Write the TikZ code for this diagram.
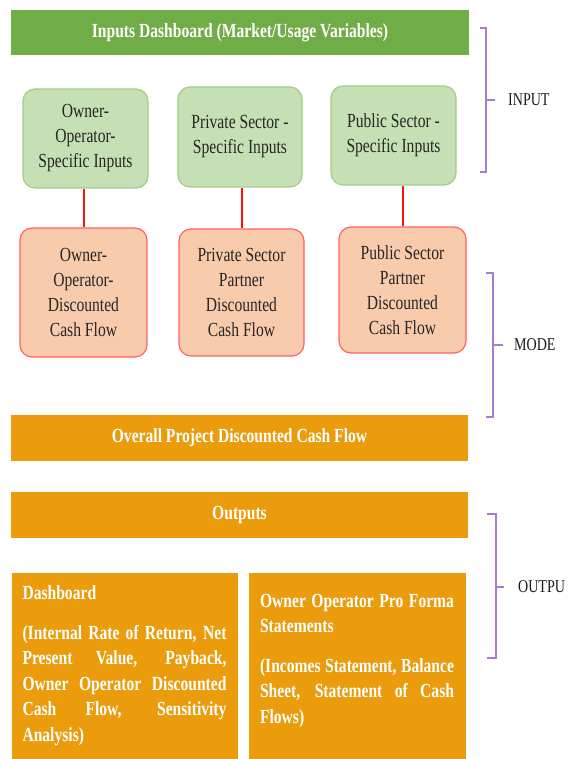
\documentclass[tikz,border=0pt]{standalone}
\usepackage{fontspec}
\setmainfont{Liberation Serif}[FakeStretch=0.78]
\usepackage{tikz}
\usetikzlibrary{positioning}

\definecolor{barGreen}{HTML}{70AD47}
\definecolor{inFill}{HTML}{C5E0B4}
\definecolor{inLine}{HTML}{A2CD86}
\definecolor{dcfFill}{HTML}{F8CBAD}
\definecolor{dcfLine}{HTML}{FF6262}
\definecolor{barOrange}{HTML}{EA9C0D}
\definecolor{linkRed}{HTML}{FF1010}
\definecolor{braceViolet}{HTML}{A77CCF}

\begin{document}
\begin{tikzpicture}[
        x=1pt, y=-1pt,
        bar/.style={rectangle, inner sep=0pt, minimum height=46pt, text=white, font=\fontsize{20}{25}\selectfont\bfseries},
        inbox/.style={rectangle, draw=inLine, fill=inFill, line width=1.2pt, rounded corners=12pt, inner sep=0pt, align=center, text=black!85, font=\fontsize{20}{25}\selectfont},
        dcfbox/.style={inbox, draw=dcfLine, fill=dcfFill},
        outbox/.style={rectangle, fill=barOrange, inner sep=0pt},
        outtext/.style={inner sep=0pt, align=justify, text=white, font=\fontsize{20}{25.5}\selectfont\bfseries},
        link/.style={draw=linkRed, line width=2pt},
        brace/.style={draw=braceViolet, line width=1.8pt},
        tag/.style={anchor=west, inner sep=0pt, text=black!90, font=\fontsize{18}{22}\selectfont}
    ]
        \useasboundingbox (0,0) rectangle (568,759);

        % input row
        \node[bar, fill=barGreen, minimum width=458pt, minimum height=45pt] (dash0) at (240,32.5) {Inputs Dashboard (Market/Usage Variables)};
        \node[inbox, minimum width=125pt, minimum height=99pt] (ownIn) at (85.5,138.5) {Owner-\\Operator-\\Specific Inputs};
        \node[inbox, minimum width=124pt, minimum height=100pt] (privIn) at (240,137) {Private Sector -\\Specific Inputs};
        \node[inbox, minimum width=125pt, minimum height=99pt] (pubIn) at (393.5,135.5) {Public Sector -\\Specific Inputs};

        % discounted cash flows
        \node[dcfbox, minimum width=127pt, minimum height=129pt] (ownDcf) at (83.5,292.5) {Owner-\\Operator-\\Discounted\\Cash Flow};
        \node[dcfbox, minimum width=125pt, minimum height=127pt] (privDcf) at (241.5,292.5) {Private Sector\\Partner\\Discounted\\Cash Flow};
        \node[dcfbox, minimum width=127pt, minimum height=126pt] (pubDcf) at (402.5,290) {Public Sector\\Partner\\Discounted\\Cash Flow};

        \draw[link] (ownDcf.north) -- (ownDcf.north |- ownIn.south);
        \draw[link] (privDcf.north) -- (privDcf.north |- privIn.south);
        \draw[link] (pubDcf.north) -- (pubDcf.north |- pubIn.south);

        \node[bar, fill=barOrange, minimum width=457pt] (overall) at (239.5,438) {Overall Project Discounted Cash Flow};

        % outputs
        \node[bar, fill=barOrange, minimum width=457pt] (outs) at (239.5,515) {Outputs};
        \node[outbox, minimum width=226pt, minimum height=186pt] (dashOut) at (125,666) {};
        \node[outbox, minimum width=217pt, minimum height=186pt] (proOut) at (357.5,666) {};
        \node[outtext, text width=204pt, below right=13pt and 10.5pt of dashOut.north west] (dashTxt)
            {Dashboard\par\vspace{14pt}(Internal Rate of Return, Net\linebreak Present Value, Payback,\linebreak Owner Operator Discounted\linebreak Cash Flow, Sensitivity\linebreak Analysis)};
        \node[outtext, text width=194pt, below right=21pt and 11pt of proOut.north west] (proTxt)
            {Owner Operator Pro Forma\linebreak Statements\par\vspace{14pt}(Incomes Statement, Balance\linebreak Sheet, Statement of Cash\linebreak Flows)};

        % side brackets
        \draw[brace] (480,28) -- (486,28) -- (486,172) -- (480,172) (486,100) -- (495,100);
        \node[tag] (inTag) at (508,100) {INPUT};
        \draw[brace] (486,273) -- (493,273) -- (493,417) -- (486,417) (493,345) -- (503,345);
        \node[tag] (modeTag) at (514,345) {MODE};
        \draw[brace] (487,514) -- (496,514) -- (496,658) -- (487,658) (496,587) -- (504,587);
        \node[tag] (outTag) at (518,587) {OUTPU};
    \end{tikzpicture}
\end{document}
